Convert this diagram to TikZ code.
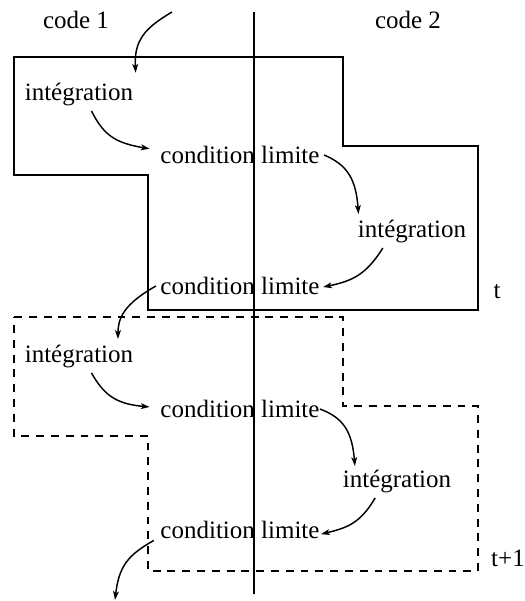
\documentclass[tikz,border=0pt]{standalone}
\usepackage{fontspec}
\setmainfont{Liberation Serif}
\usetikzlibrary{arrows.meta}
\begin{document}
\begin{tikzpicture}[x=0.48pt,y=-0.48pt,
  lbl/.style={font=\fontsize{12}{14}\selectfont, inner sep=1pt},
  frame/.style={line width=1pt, line join=miter},
  dframe/.style={frame, dash pattern=on 3.8pt off 3.3pt},
  flow/.style={line width=0.7pt, -{Stealth[length=4.2pt,width=2.8pt,inset=1pt]}}]
\useasboundingbox (0,0) rectangle (524,601);

% time steps t and t+1
\draw[frame] (14,57) -- (343,57) -- (343,146) -- (478,146) -- (478,310)
  -- (148,310) -- (148,175) -- (14,175) -- cycle;
\draw[dframe] (14,317) -- (343,317) -- (343,406) -- (478,406) -- (478,571)
  -- (148,571) -- (148,436) -- (14,436) -- cycle;

% separation between the two codes
\draw[line width=1pt] (254,12) -- (254,594);

% labels
\node[lbl] (code1) at (76,20) {code 1};
\node[lbl] (code2) at (408,20) {code 2};
\node[lbl] (tA) at (497,292) {t};
\node[lbl] (tB) at (508,558) {t+1};

\node[lbl] (i1) at (79,95) {intégration};
\node[lbl] (c1) at (240,155) {condition limite};
\node[lbl] (i2) at (412,232) {intégration};
\node[lbl] (c2) at (240,286) {condition limite};
\node[lbl] (i3) at (79,357) {intégration};
\node[lbl] (c3) at (240,409) {condition limite};
\node[lbl] (i4) at (397,482) {intégration};
\node[lbl] (c4) at (240,530) {condition limite};

\coordinate (entry) at (172,12);
\coordinate (exit) at (115,600);

% sequence of steps
\draw[flow] (entry) .. controls (145,28) and (134,40) .. ([yshift=4pt]i1.north east);
\draw[flow] ([xshift=6pt,yshift=-1pt]i1.south) .. controls (104,136) and (116,143) .. ([xshift=-4pt,yshift=3pt]c1.west);
\draw[flow] ([xshift=1pt]c1.east) .. controls (348,165) and (356,180) .. ([xshift=1.5pt,yshift=2pt]i2.north west);
\draw[flow] ([xshift=-14pt,yshift=-1pt]i2.south) .. controls (366,275) and (352,281) .. ([xshift=0.5pt,yshift=-0.5pt]c2.east);
\draw[flow] ([xshift=-1pt]c2.west) .. controls (124,304) and (118,318) .. ([xshift=-8.5pt,yshift=2pt]i3.north east);
\draw[flow] ([xshift=6pt,yshift=-1pt]i3.south) .. controls (104,395) and (116,404) .. ([xshift=-4pt,yshift=1pt]c3.west);
\draw[flow] ([xshift=-1pt]c3.east) .. controls (344,418) and (352,432) .. ([xshift=7pt,yshift=1pt]i4.north west);
\draw[flow] ([xshift=-10.5pt,yshift=-1pt]i4.south) .. controls (360,524) and (346,528) .. ([xshift=-0.5pt,yshift=-2pt]c4.east);
\draw[flow] ([xshift=-2pt,yshift=-5pt]c4.west) .. controls (128,555) and (119,566) .. (exit);
\end{tikzpicture}
\end{document}
